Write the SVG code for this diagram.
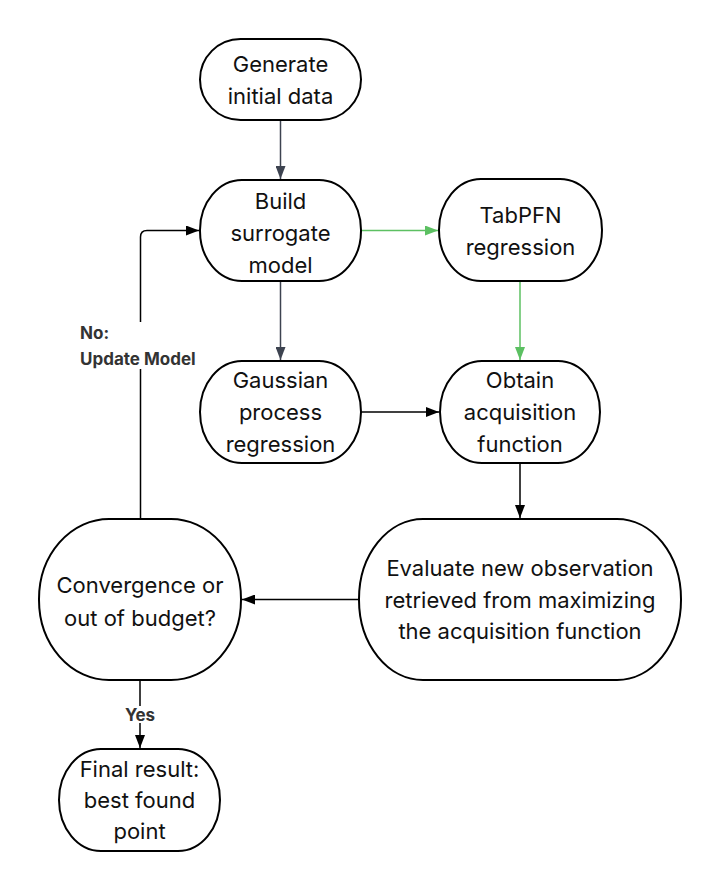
<svg xmlns="http://www.w3.org/2000/svg" width="720" height="891" viewBox="0 0 720 891">
<defs>
<style>
.node{fill:#fff;stroke:#000;stroke-width:2}
.t{font-family:Inter,"Liberation Sans",sans-serif;font-size:22px;fill:#111;text-anchor:middle}
.lbl{font-family:Inter,"Liberation Sans",sans-serif;font-size:17px;font-weight:700;fill:#333}
.c{fill:none;stroke-width:1.5}
.k{stroke:#000}
.d{stroke:#3d4350}
.g{stroke:#5cc062}
</style>
<marker id="ak" markerWidth="13" markerHeight="10" refX="13" refY="5" orient="auto" markerUnits="userSpaceOnUse"><path d="M0,0 L13,5 L0,10 Z" fill="#000"/></marker>
<marker id="ad" markerWidth="13" markerHeight="10" refX="13" refY="5" orient="auto" markerUnits="userSpaceOnUse"><path d="M0,0 L13,5 L0,10 Z" fill="#3d4350"/></marker>
<marker id="ag" markerWidth="13" markerHeight="10" refX="13" refY="5" orient="auto" markerUnits="userSpaceOnUse"><path d="M0,0 L13,5 L0,10 Z" fill="#5cc062"/></marker>
</defs>
<rect width="720" height="891" fill="#fff"/>
<g id="connectors">
<path class="c d" d="M280.5,120 V179" marker-end="url(#ad)"/>
<path class="c d" d="M280.5,281 V360" marker-end="url(#ad)"/>
<path class="c g" d="M361,230.5 H438" marker-end="url(#ag)"/>
<path class="c g" d="M520,281 V360" marker-end="url(#ag)"/>
<path class="c k" d="M361,412 H439" marker-end="url(#ak)"/>
<path class="c k" d="M520,463 V518" marker-end="url(#ak)"/>
<path class="c k" d="M359,599.5 H242" marker-end="url(#ak)"/>
<path class="c k" d="M140.5,519 V237 Q140.5,230.5 147,230.5 H199" marker-end="url(#ak)"/>
<path class="c k" d="M140,680 V748" marker-end="url(#ak)"/>
<rect x="76" y="322" width="128" height="47" fill="#fff"/>
<rect x="120" y="706" width="40" height="17" fill="#fff"/>
<text class="lbl" x="80" y="339">No:</text>
<text class="lbl" x="80" y="365">Update Model</text>
<text class="lbl" x="140" y="721" text-anchor="middle">Yes</text>
</g>
<g id="generate">
<rect class="node" x="200" y="39" width="161" height="81" rx="40.5" ry="40.5"/>
<text class="t" x="280.5" y="72">Generate</text>
<text class="t" x="280.5" y="104">initial data</text>
</g>
<g id="build">
<rect class="node" x="200" y="180" width="161" height="101" rx="42" ry="50"/>
<text class="t" x="280.5" y="209">Build</text>
<text class="t" x="280.5" y="241">surrogate</text>
<text class="t" x="280.5" y="273">model</text>
</g>
<g id="tabpfn">
<rect class="node" x="439" y="179" width="163" height="102" rx="42" ry="51"/>
<text class="t" x="520.5" y="223">TabPFN</text>
<text class="t" x="520.5" y="255">regression</text>
</g>
<g id="gaussian">
<rect class="node" x="200" y="361" width="161" height="102" rx="42" ry="51"/>
<text class="t" x="280.5" y="388">Gaussian</text>
<text class="t" x="280.5" y="420">process</text>
<text class="t" x="280.5" y="452">regression</text>
</g>
<g id="obtain">
<rect class="node" x="440" y="361" width="160" height="102" rx="42" ry="51"/>
<text class="t" x="520" y="388">Obtain</text>
<text class="t" x="520" y="420">acquisition</text>
<text class="t" x="520" y="452">function</text>
</g>
<g id="evaluate">
<rect class="node" x="359" y="519" width="322" height="161" rx="64" ry="80"/>
<text class="t" x="520" y="576">Evaluate new observation</text>
<text class="t" x="520" y="608">retrieved from maximizing</text>
<text class="t" x="520" y="639">the acquisition function</text>
</g>
<g id="convergence">
<rect class="node" x="39" y="519" width="202" height="161" rx="70" ry="80"/>
<text class="t" x="140" y="593">Convergence or</text>
<text class="t" x="140" y="626">out of budget?</text>
</g>
<g id="final">
<rect class="node" x="59" y="749" width="161" height="102" rx="42" ry="51"/>
<text class="t" x="139.5" y="777">Final result:</text>
<text class="t" x="139.5" y="808">best found</text>
<text class="t" x="139.5" y="839">point</text>
</g>
</svg>
